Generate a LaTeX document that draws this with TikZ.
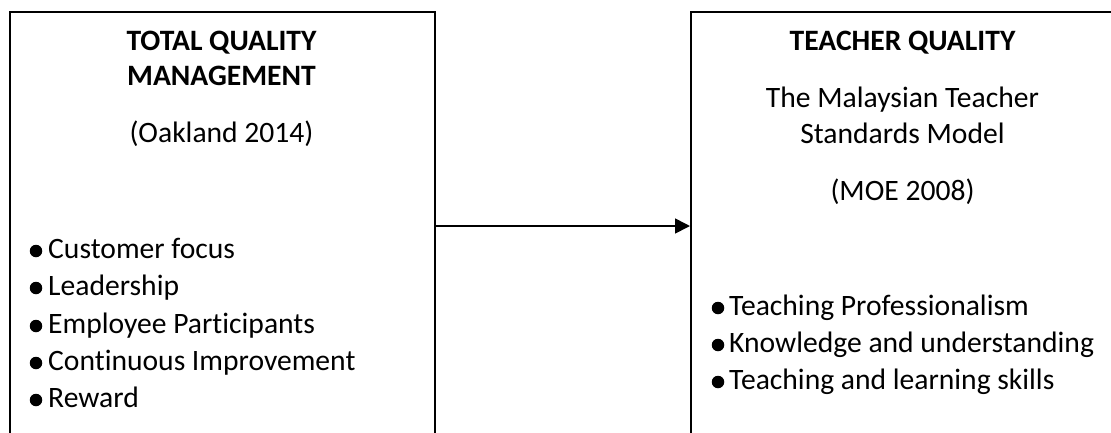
\documentclass[tikz,border=0pt]{standalone}
\usepackage{fontspec}
\setmainfont{Carlito}[Ligatures=NoCommon, RawFeature={-calt}]
\usetikzlibrary{arrows.meta}
\begin{document}
\begin{tikzpicture}[x=1pt,y=-1pt,
  boxst/.style={draw, line width=1.6pt, minimum width=425pt, minimum height=460pt, anchor=north west, inner sep=0pt},
  txt/.style={anchor=base, inner sep=0pt, font=\fontsize{29.6}{36}\selectfont},
  btxt/.style={txt, font=\fontsize{29.6}{36}\selectfont\bfseries},
  item/.style={anchor=base west, inner sep=0pt, font=\fontsize{29.6}{36}\selectfont},
  dot/.style={circle, fill=black, inner sep=0pt, minimum size=12.5pt}]
\useasboundingbox (0,0) rectangle (1111,432);
\clip (0,0) rectangle (1111,432);
\node[boxst] (L) at (9,11) {};
\node[boxst] (R) at (690,11) {};
% left text
\node[btxt] (l1) at (221.5,50) {TOTAL QUALITY};
\node[btxt] (l2) at (221.5,85) {MANAGEMENT};
\node[txt] (l3) at (221.5,142) {(Oakland 2014)};
\node[dot] (b1) at (36,251) {};
\node[item] (i1) at (48,258) {Customer focus};
\node[dot] (b2) at (36,288) {};
\node[item] (i2) at (48,295) {Leadership};
\node[dot] (b3) at (36,326) {};
\node[item] (i3) at (48,333) {Employee Participants};
\node[dot] (b4) at (36,363) {};
\node[item] (i4) at (48,370) {Continuous Improvement};
\node[dot] (b5) at (36,400) {};
\node[item] (i5) at (48,407) {Reward};
% right text
\node[btxt] (r1) at (902.5,50) {TEACHER QUALITY};
\node[txt] (r2) at (902.5,107) {The Malaysian Teacher};
\node[txt] (r3) at (902.5,143) {Standards Model};
\node[txt] (r4) at (902.5,200) {(MOE 2008)};
\node[dot] (c1) at (718,308) {};
\node[item] (j1) at (729,315) {Teaching Professionalism};
\node[dot] (c2) at (718,345) {};
\node[item] (j2) at (729,352) {Knowledge and understanding};
\node[dot] (c3) at (718,382) {};
\node[item] (j3) at (729,389) {Teaching and learning skills};
% arrow
\coordinate (ay) at (0,226);
\draw[line width=1.6pt, -{Triangle[length=15pt,width=15pt]}] (L.east |- ay) -- (R.west |- ay);
\end{tikzpicture}
\end{document}
